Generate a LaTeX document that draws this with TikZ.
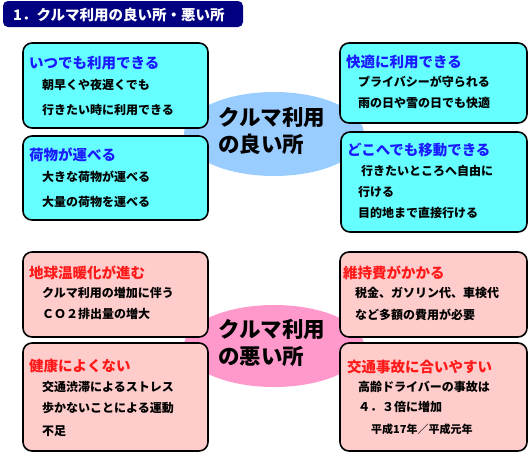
\documentclass[tikz,border=0pt]{standalone}
\usepackage{fontspec}
\setmainfont{Noto Sans CJK JP}
\usetikzlibrary{shapes.geometric}
\definecolor{navy}{HTML}{000080}
\definecolor{goodfill}{HTML}{66FFFF}
\definecolor{badfill}{HTML}{FFCCCC}
\definecolor{goodell}{HTML}{99CCFF}
\definecolor{badell}{HTML}{FF99CC}
\definecolor{headblue}{HTML}{1A1AFF}
\definecolor{headred}{HTML}{FF1A1A}
\tikzset{
  card/.style={draw=black, line width=1.6pt, rounded corners=9pt, inner sep=0pt},
  goodcard/.style={card, fill=goodfill},
  badcard/.style={card, fill=badfill},
  bubble/.style={ellipse, inner sep=0pt, minimum width=180pt},
  headtxt/.style={anchor=west, inner sep=0pt, font=\fontsize{14.5}{16}\selectfont\bfseries},
  bodytxt/.style={anchor=west, inner sep=0pt, font=\fontsize{12}{14}\selectfont\bfseries},
  bigtxt/.style={anchor=west, inner sep=0pt, align=left, font=\fontsize{21.5}{27}\selectfont\bfseries}
}
\begin{document}
\begin{tikzpicture}[x=1pt,y=-1pt]
\useasboundingbox (0,0) rectangle (529,453);
% title
\node[fill=navy, rounded corners=5pt, minimum width=240pt, minimum height=26pt, inner sep=0pt] (title) at (123,14) {};
\node[headtxt, text=white] (titletxt) at (13,15) {1．クルマ利用の良い所・悪い所};
% ellipses
\node[bubble, fill=goodell, minimum height=84pt] (goodell) at (274,134) {};
\node[bubble, fill=badell, minimum height=82pt] (badell) at (274,346) {};
\node[bigtxt] (goodtxt) at (218,131) {クルマ利用\\の良い所};
\node[bigtxt] (badtxt) at (218,343) {クルマ利用\\の悪い所};
% good cards
\node[goodcard, minimum width=185pt, minimum height=85pt] (tl1) at (115.5,85.5) {};
\node[goodcard, minimum width=185pt, minimum height=84pt] (tl2) at (115.5,178) {};
\node[goodcard, minimum width=187pt, minimum height=80pt] (tr1) at (433.5,83) {};
\node[goodcard, minimum width=186pt, minimum height=100pt] (tr2) at (434,182) {};
% bad cards
\node[badcard, minimum width=185pt, minimum height=85pt] (bl1) at (115.5,294.5) {};
\node[badcard, minimum width=185pt, minimum height=108pt] (bl2) at (115.5,397) {};
\node[badcard, minimum width=187pt, minimum height=85pt] (br1) at (433.5,294.5) {};
\node[badcard, minimum width=187pt, minimum height=108pt] (br2) at (433.5,397) {};
% texts TL1
\node[headtxt, text=headblue] (h1) at (29,63) {いつでも利用できる};
\node[bodytxt] (t1a) at (42,85) {朝早くや夜遅くでも};
\node[bodytxt] (t1b) at (42,110) {行きたい時に利用できる};
% TL2
\node[headtxt, text=headblue] (h2) at (29,155) {荷物が運べる};
\node[bodytxt] (t2a) at (42,177) {大きな荷物が運べる};
\node[bodytxt] (t2b) at (42,202) {大量の荷物を運べる};
% TR1
\node[headtxt, text=headblue] (h3) at (346,62) {快適に利用できる};
\node[bodytxt] (t3a) at (358,82) {プライバシーが守られる};
\node[bodytxt] (t3b) at (358,103) {雨の日や雪の日でも快適};
% TR2
\node[headtxt, text=headblue] (h4) at (347,150) {どこへでも移動できる};
\node[bodytxt] (t4a) at (361,171) {行きたいところへ自由に};
\node[bodytxt] (t4b) at (358,192) {行ける};
\node[bodytxt] (t4c) at (358,213) {目的地まで直接行ける};
% BL1
\node[headtxt, text=headred] (h5) at (29,273) {地球温暖化が進む};
\node[bodytxt] (t5a) at (42,293) {クルマ利用の増加に伴う};
\node[bodytxt] (t5b) at (42,314) {ＣＯ２排出量の増大};
% BL2
\node[headtxt, text=headred] (h6) at (29,366) {健康によくない};
\node[bodytxt] (t6a) at (42,387) {交通渋滞によるストレス};
\node[bodytxt] (t6b) at (42,408) {歩かないことによる運動};
\node[bodytxt] (t6c) at (42,431) {不足};
% BR1
\node[headtxt, text=headred] (h7) at (343,273) {維持費がかかる};
\node[bodytxt] (t7a) at (355,293) {税金、ガソリン代、車検代};
\node[bodytxt] (t7b) at (355,315) {など多額の費用が必要};
% BR2
\node[headtxt, text=headred] (h8) at (347,367) {交通事故に合いやすい};
\node[bodytxt] (t8a) at (358,387) {高齢ドライバーの事故は};
\node[bodytxt] (t8b) at (358,407) {４．３倍に増加};
\node[anchor=west, inner sep=0pt, font=\fontsize{11}{13}\selectfont\bfseries] (t8c) at (371,429) {平成17年／平成元年};
\end{tikzpicture}
\end{document}
